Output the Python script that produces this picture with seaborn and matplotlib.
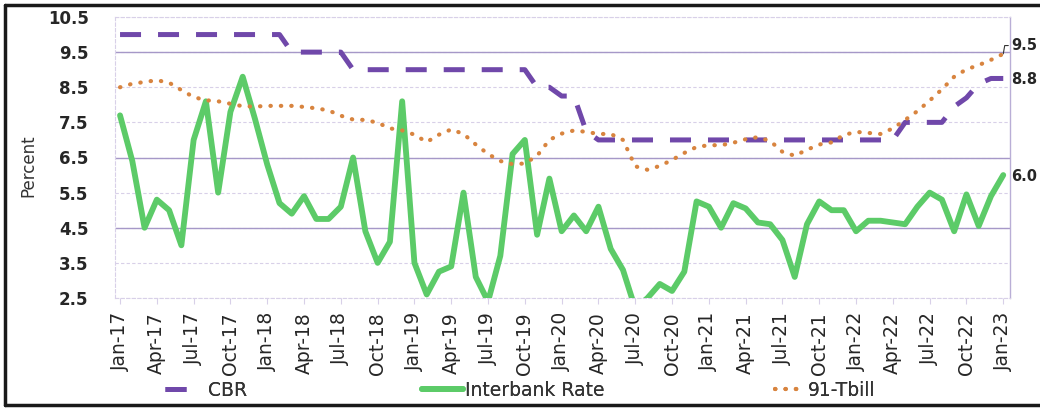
import matplotlib
matplotlib.use("Agg")
import numpy as np
import pandas as pd
import matplotlib.pyplot as plt
from matplotlib.lines import Line2D
import seaborn as sns

# monthly series, Jan-17 .. Jan-23
months = pd.date_range("2017-01-01", "2023-01-01", freq="MS")

cbr = [10.0, 10.0, 10.0, 10.0, 10.0, 10.0, 10.0, 10.0, 10.0, 10.0,
       10.0, 10.0, 10.0, 10.0, 9.5, 9.5, 9.5, 9.5, 9.5, 9.0,
       9.0, 9.0, 9.0, 9.0, 9.0, 9.0, 9.0, 9.0, 9.0, 9.0,
       9.0, 9.0, 9.0, 9.0, 8.5, 8.5, 8.25, 8.25, 7.25, 7.0,
       7.0, 7.0, 7.0, 7.0, 7.0, 7.0, 7.0, 7.0, 7.0, 7.0,
       7.0, 7.0, 7.0, 7.0, 7.0, 7.0, 7.0, 7.0, 7.0, 7.0,
       7.0, 7.0, 7.0, 7.0, 7.5, 7.5, 7.5, 7.5, 7.95, 8.2,
       8.6, 8.75, 8.75]

interbank = [7.7, 6.4, 4.5, 5.3, 5.0, 4.0, 7.0, 8.1, 5.5, 7.8,
             8.8, 7.6, 6.3, 5.2, 4.9, 5.4, 4.75, 4.75, 5.1, 6.5,
             4.4, 3.5, 4.1, 8.1, 3.5, 2.6, 3.25, 3.4, 5.5, 3.1,
             2.4, 3.7, 6.6, 7.0, 4.3, 5.9, 4.4, 4.85, 4.4, 5.1,
             3.9, 3.3, 2.2, 2.5, 2.9, 2.7, 3.25, 5.25, 5.1, 4.5,
             5.2, 5.05, 4.65, 4.6, 4.15, 3.1, 4.6, 5.25, 5.0, 5.0,
             4.4, 4.7, 4.7, 4.65, 4.6, 5.1, 5.5, 5.3, 4.4, 5.45,
             4.55, 5.4, 6.0]

tbill = [8.5, 8.6, 8.65, 8.7, 8.63, 8.42, 8.22, 8.13, 8.1, 8.03,
         7.96, 7.95, 7.97, 7.97, 7.97, 7.94, 7.9, 7.84, 7.69, 7.58,
         7.57, 7.49, 7.33, 7.27, 7.15, 6.94, 7.15, 7.3, 7.17, 6.87,
         6.6, 6.4, 6.31, 6.33, 6.55, 7.0, 7.18, 7.27, 7.23, 7.17,
         7.17, 7.0, 6.25, 6.15, 6.26, 6.43, 6.63, 6.8, 6.85, 6.85,
         6.92, 7.02, 7.08, 6.97, 6.66, 6.55, 6.72, 6.87, 6.93, 7.14,
         7.23, 7.2, 7.17, 7.33, 7.57, 7.82, 8.12, 8.44, 8.8, 9.01,
         9.13, 9.28, 9.45]

end_labels = ["9.5", "8.8", "6.0"]   # tbill, cbr, interbank
y_ticks = [2.5, 3.5, 4.5, 5.5, 6.5, 7.5, 8.5, 9.5, 10.5]

df = pd.DataFrame({
    "idx": np.arange(len(months)),
    "CBR": cbr,
    "Interbank Rate": interbank,
    "91-Tbill": tbill,
})

sns.set_theme(style="white")
plt.rcParams["font.family"] = ["DejaVu Sans"]

W, H = 1040, 409
fig = plt.figure(figsize=(W / 100, H / 100), dpi=100)
ax = fig.add_axes([115 / W, 1 - 298 / H, (1010 - 115) / W, (298 - 17) / H])

# colours
c_cbr = "#7048aa"
c_ib = "#5ccb68"
c_tb = "#d8843f"
c_grid = "#d8d0e8"
c_text = "#262626"

# gridlines (scan shows some of them darker)
for v in y_ticks:
    ax.axhline(v, color=c_grid, lw=0.8, ls=(0, (3, 2)), zorder=0)
for v in [9.5, 6.5, 4.5]:
    ax.axhline(v, color="#a698c8", lw=1.0, zorder=0)

sns.lineplot(data=df, x="idx", y="Interbank Rate", ax=ax, color=c_ib,
             lw=4.2, label="Interbank Rate", zorder=3)
sns.lineplot(data=df, x="idx", y="CBR", ax=ax, color=c_cbr, lw=3.6,
             linestyle=(0, (4.2, 3.4)), label="CBR", zorder=4)
sns.lineplot(data=df, x="idx", y="91-Tbill", ax=ax, color=c_tb, lw=3.0,
             linestyle=(0, (0.1, 2.4)), dash_capstyle="round",
             label="91-Tbill", zorder=5)

ax.set_xlim(-0.41, 72.55)
ax.set_ylim(2.5, 10.5)
ax.set_yticks(y_ticks)
ax.set_yticklabels([f"{v:.1f}" for v in y_ticks], fontsize=12,
                   fontweight="bold", color=c_text)
ticks = list(range(0, len(months), 3))
ax.set_xticks(ticks)
ax.set_xticklabels([months[i].strftime("%b-%y") for i in ticks],
                   rotation=90, fontsize=13.5, color=c_text)
ax.tick_params(axis="y", length=0, pad=19)
ax.tick_params(axis="x", length=4, width=0.8, color=c_grid, pad=6,
               direction="out", bottom=True)
ax.set_xlabel("")
ax.set_ylabel("Percent", fontsize=12, color="#333333")
ax.yaxis.set_label_coords(-0.087, 0.47)

for side in ["left", "bottom", "top"]:
    ax.spines[side].set_color(c_grid)
    ax.spines[side].set_linestyle((0, (3, 2)))
    ax.spines[side].set_linewidth(0.8)
ax.spines["right"].set_color("#b9aed6")
ax.spines["right"].set_linewidth(1.0)

# end-of-series labels
last = len(months) - 1
lab_kw = dict(textcoords="offset points", va="center", ha="left",
              fontsize=10.5, fontweight="bold", color=c_text,
              annotation_clip=False)
ax.annotate(end_labels[0], xy=(last, tbill[-1]), xytext=(6, 6),
            arrowprops=dict(arrowstyle="-", lw=0.8, color="#333333",
                            shrinkA=0, shrinkB=0,
                            connectionstyle="angle,angleA=0,angleB=80,rad=0"),
            **lab_kw)
ax.annotate(end_labels[1], xy=(last, cbr[-1]), xytext=(6, -1), **lab_kw)
ax.annotate(end_labels[2], xy=(last, interbank[-1]), xytext=(6, -1), **lab_kw)

# legend: one small legend per entry so each sits where the scan has it
handles, labels = ax.get_legend_handles_labels()
ax.get_legend().remove()
hmap = dict(zip(labels, handles))
leg_spec = [("CBR", 165, 1.17, 1.1),
            ("Interbank Rate", 422, 2.2, 0.1),
            ("91-Tbill", 775, 1.6, 0.15)]
for name, x0, hlen, hpad in leg_spec:
    leg = fig.legend([hmap[name]], [name], loc="center left",
                     bbox_to_anchor=(x0 / W, 1 - 390 / H), frameon=False,
                     fontsize=13.5, handlelength=hlen, handletextpad=hpad,
                     borderpad=0, borderaxespad=0, labelcolor="#333333")
    fig.add_artist(leg)

# outer box of the scanned figure (left, top and bottom edges)
box_kw = dict(transform=fig.transFigure, color="#1a1a1a", lw=2.5)
fig.add_artist(Line2D([5 / W, 5 / W], [4 / H, 1 - 5 / H], **box_kw))
fig.add_artist(Line2D([5 / W, 1.0], [1 - 5 / H, 1 - 5 / H], **box_kw))
fig.add_artist(Line2D([5 / W, 1.0], [4 / H, 4 / H], **box_kw))

fig.savefig("out.png", dpi=100, facecolor="white")
